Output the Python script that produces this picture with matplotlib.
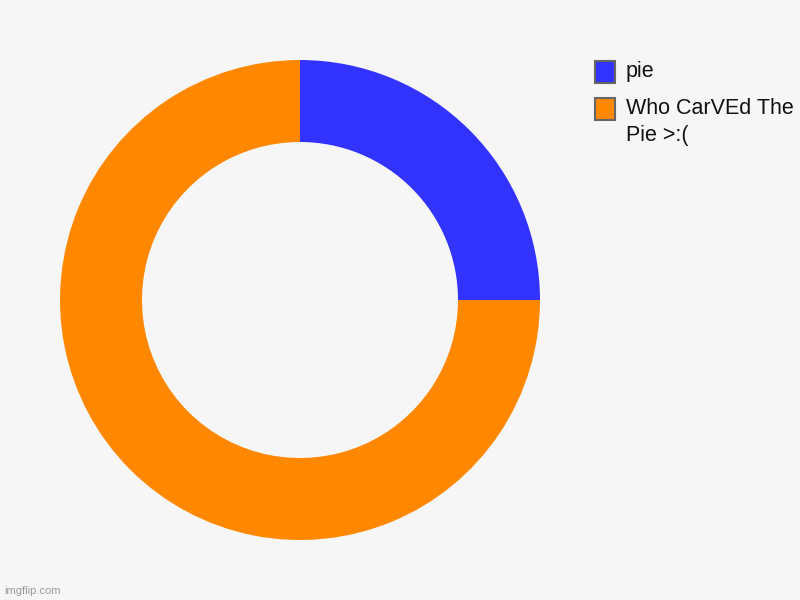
import matplotlib
matplotlib.use("Agg")
import matplotlib.pyplot as plt
from matplotlib.patches import Rectangle

labels = ["pie", "Who CarVEd The Pie >:("]
values = [25, 75]
colors = ["#3333FF", "#FF8800"]
legend_lines = [["pie"], ["Who CarVEd The", "Pie >:("]]

W, H = 800, 600
bg = "#F6F6F6"
fig = plt.figure(figsize=(8, 6), dpi=100, facecolor=bg)
plt.rcParams['font.family'] = ['Liberation Sans', 'DejaVu Sans']

ax = fig.add_axes([60 / W, 60 / H, 480 / W, 480 / H])
ax.set_facecolor(bg)
ax.pie(values, colors=colors, startangle=90, counterclock=False,
       radius=1.0, wedgeprops=dict(width=(240 - 158) / 240, edgecolor='none'))
ax.set_xlim(-1, 1)
ax.set_ylim(-1, 1)
ax.set_aspect('equal')
ax.axis('off')

# legend
y_top = 61
for i, (lines, c) in enumerate(zip(legend_lines, colors)):
    sy = y_top + i * 37
    fig.patches.append(Rectangle((595 / W, 1 - (sy + 22) / H), 20 / W, 22 / H,
                                 transform=fig.transFigure, facecolor=c,
                                 edgecolor="#666666", linewidth=1.5))
    for j, t in enumerate(lines):
        fig.text(626 / W, 1 - (sy + 11 + j * 26) / H, t, fontsize=15.5,
                 color="#111111", va='center', ha='left')

fig.text(4 / W, 1 - 591 / H, "imgflip.com", fontsize=8, color="#9a9a9a",
         va='center', ha='left')

fig.savefig("out.png", dpi=100, facecolor=bg)
